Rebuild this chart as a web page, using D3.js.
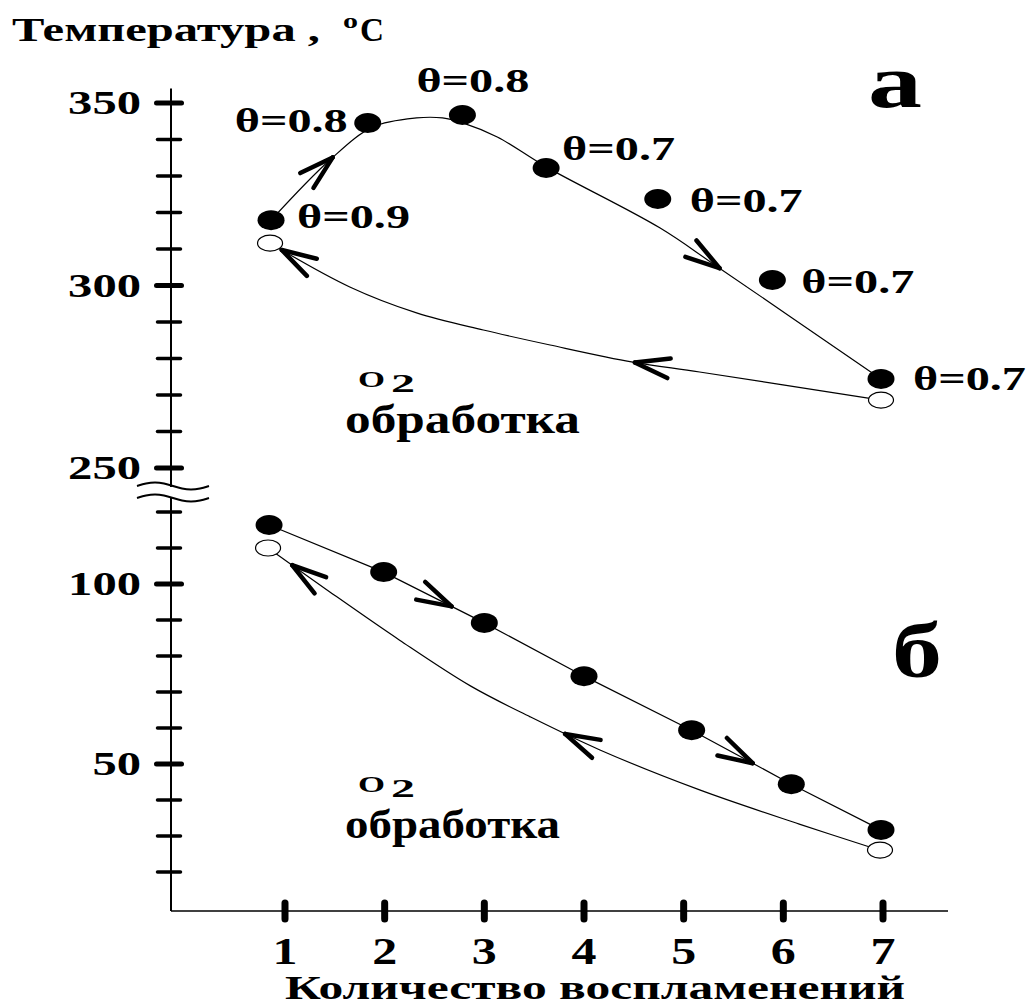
<!DOCTYPE html>
<html>
<head>
<meta charset="utf-8">
<script src="https://cdn.jsdelivr.net/npm/d3@7"></script>
<style>
  body { margin: 0; background: #fff; }
  svg text { font-family: 'Liberation Serif', Tinos, 'Times New Roman', Times, serif; font-weight: 700; fill: #000; }
</style>
</head>
<body>
<svg id="chart"></svg>
<script>
/* Temperature vs number of ignitions, two panels on a broken axis */

// --- data ---
// panel a (upper): heating points (filled), theta labels, cooled points (open)
const upHeatX = [0.86, 1.83, 2.78, 3.62, 4.74, 5.89, 6.98];
const upHeatT = [317.9, 344.5, 346.7, 332.2, 323.7, 301.5, 274.4];
const upTheta = ['θ=0.9', 'θ=0.8', 'θ=0.8', 'θ=0.7', 'θ=0.7', 'θ=0.7', 'θ=0.7'];
const upOpenX = [0.85, 6.98];
const upOpenT = [311.6, 268.6];
// smooth trend through the heating points, and the cooling return path (7 -> 1)
const upHeatCurveX = [0.86, 1.45, 1.88, 2.32, 2.58, 2.79, 3.13, 3.62, 4.76, 5.33, 6.98];
const upHeatCurveT = [317.9, 334.4, 343.4, 345.9, 345.9, 344.5, 340.7, 332.5, 315.8, 305.3, 274.4];
const upCoolCurveX = [6.98, 5.16, 4.49, 3.66, 2.99, 2.32, 1.65, 0.85];
const upCoolCurveT = [268.6, 276.3, 279.0, 283.7, 287.8, 292.5, 299.6, 311.6];

// panel б (lower)
const lowHeatX = [0.84, 1.99, 3.0, 4.0, 5.08, 6.08, 6.98];
const lowHeatT = [116.4, 103.3, 89.2, 74.4, 59.4, 44.4, 31.7];
const lowOpenX = [0.83, 6.97];
const lowOpenT = [110.0, 26.1];
const lowCoolCurveX = [6.96, 6.16, 5.16, 4.16, 3.46, 2.86, 2.15, 1.45, 0.83];
const lowCoolCurveT = [26.1, 33.3, 42.8, 53.9, 63.1, 71.7, 84.4, 97.8, 110.0];

// arrow tips (x position along each path)
const upHeatArrows = [1.48, 5.36];
const upCoolArrows = [4.51, 0.97];
const lowHeatArrows = [2.67, 5.69];
const lowCoolArrows = [3.81, 1.07];

// ticks
const xTickLabels = [1, 2, 3, 4, 5, 6, 7];
const upTicks = d3.range(250, 351, 10);
const lowTicks = d3.range(20, 121, 10);
const upTickLabels = [250, 300, 350];
const lowTickLabels = [50, 100];

// --- layout ---
const W = 1035, H = 1007;
const svg = d3.select('#chart').attr('width', W).attr('height', H)
    .attr('font-family', "'Liberation Serif', serif");

const x = d3.scaleLinear().domain([1, 7]).range([285, 883]);
const yUp = d3.scaleLinear().domain([250, 350]).range([468, 103]);
const yLow = d3.scaleLinear().domain([50, 100]).range([764, 584]);

const axisX = 171;
const axisTop = yUp(354);
const baseY = yLow(9.2);
const axisRight = 948;
const breakTop = 487, breakBot = 497;

function label(g, str, px, py, size, width, anchor) {
    const t = g.append('text')
        .attr('x', px)
        .attr('y', py)
        .attr('font-size', size)
        .attr('text-anchor', anchor || 'start')
        .text(str);
    if (width) t.attr('textLength', width).attr('lengthAdjust', 'spacingAndGlyphs');
    return t;
}

// Axes
const axis = svg.append('g').attr('stroke', '#000').attr('fill', 'none');
axis.append('line').attr('x1', axisX).attr('x2', axisX)
    .attr('y1', axisTop).attr('y2', breakTop).attr('stroke-width', 2);
axis.append('line').attr('x1', axisX).attr('x2', axisX)
    .attr('y1', breakBot).attr('y2', baseY).attr('stroke-width', 2);
axis.append('line').attr('x1', axisX).attr('x2', axisRight)
    .attr('y1', baseY).attr('y2', baseY).attr('stroke-width', 1.5);

// Axis break squiggles
const wave = d3.line().curve(d3.curveBasis);
[breakTop - 1, breakBot + 1].forEach(yy => {
    const pts = d3.range(0, 9).map(i => [axisX - 34 + i * 9, yy + 4 * Math.sin(i / 8 * 2 * Math.PI + Math.PI)]);
    axis.append('path').attr('d', wave(pts)).attr('stroke-width', 2);
});

// Y ticks crossing the axis
function yTicks(scale, ticks, majors) {
    ticks.forEach(v => {
        const major = majors.includes(v);
        axis.append('line')
            .attr('x1', major ? 156.5 : 157.5)
            .attr('x2', major ? 181.5 : 180.5)
            .attr('y1', scale(v)).attr('y2', scale(v))
            .attr('stroke-width', major ? 5 : 3.5)
            .attr('stroke-linecap', 'round');
    });
    majors.forEach(v => {
        const s = String(v);
        label(svg, s, 141, scale(v) + 11, 34, s.length * 24.3, 'end');
    });
}
yTicks(yUp, upTicks, upTickLabels);
yTicks(yLow, lowTicks, lowTickLabels);

// X ticks
xTickLabels.forEach(v => {
    axis.append('line')
        .attr('x1', x(v)).attr('x2', x(v))
        .attr('y1', baseY - 8).attr('y2', baseY + 8)
        .attr('stroke-width', 7)
        .attr('stroke-linecap', 'round');
    label(svg, String(v), x(v), 964, 38, 25, 'middle');
});

// Axis titles
label(svg, 'Температура ,', 12, 41, 34, 308);
label(svg, 'o', 343, 28, 20, 15);
label(svg, 'C', 360, 41, 34, 24);
label(svg, 'Количество воспламенений', 285, 999, 34, 620);

// Curves
const plot = svg.append('g');
function curve(xs, ts, scale, smooth) {
    const line = d3.line()
        .x(d => x(d[0]))
        .y(d => scale(d[1]))
        .curve(smooth ? d3.curveCatmullRom.alpha(0.5) : d3.curveLinear);
    return plot.append('path')
        .attr('d', line(d3.zip(xs, ts)))
        .attr('fill', 'none')
        .attr('stroke', '#000')
        .attr('stroke-width', 1.2);
}

function arrows(path, tips) {
    const node = path.node();
    const len = node.getTotalLength();
    tips.forEach(tx => {
        const target = x(tx);
        let best = 0, bd = Infinity;
        for (let l = 0; l <= len; l += 0.5) {
            const d = Math.abs(node.getPointAtLength(l).x - target);
            if (d < bd) { bd = d; best = l; }
        }
        const tip = node.getPointAtLength(best);
        const back = node.getPointAtLength(Math.max(0, best - 5));
        const ang = Math.atan2(back.y - tip.y, back.x - tip.x);
        const L = 36, a = 16 * Math.PI / 180;
        [-a, a].forEach(da => {
            plot.append('line')
                .attr('x1', tip.x).attr('y1', tip.y)
                .attr('x2', tip.x + L * Math.cos(ang + da))
                .attr('y2', tip.y + L * Math.sin(ang + da))
                .attr('stroke', '#000')
                .attr('stroke-width', 4.5)
                .attr('stroke-linecap', 'round');
        });
    });
}

arrows(curve(upHeatCurveX, upHeatCurveT, yUp, true), upHeatArrows);
arrows(curve(upCoolCurveX, upCoolCurveT, yUp, true), upCoolArrows);
arrows(curve(lowHeatX, lowHeatT, yLow, false), lowHeatArrows);
arrows(curve(lowCoolCurveX, lowCoolCurveT, yLow, true), lowCoolArrows);

// Points
function points(xs, ts, scale, filled) {
    plot.selectAll(null)
        .data(d3.zip(xs, ts))
        .join('ellipse')
        .attr('cx', d => x(d[0]))
        .attr('cy', d => scale(d[1]))
        .attr('rx', filled ? 13.5 : 12.5)
        .attr('ry', filled ? 10 : 8)
        .attr('fill', filled ? '#000' : '#fff')
        .attr('stroke', '#000')
        .attr('stroke-width', filled ? 0 : 1.2);
}
points(upOpenX, upOpenT, yUp, false);
points(upHeatX, upHeatT, yUp, true);
points(lowOpenX, lowOpenT, yLow, false);
points(lowHeatX, lowHeatT, yLow, true);

// Theta labels next to the upper points
const thetaPos = [[26, 8, 'start'], [-20, 9, 'end'], [-46, -23, 'start'], [16, -8, 'start'],
                  [32, 13, 'start'], [29, 13, 'start'], [32, 11, 'start']];
upTheta.forEach((s, i) => {
    const [dx, dy, anchor] = thetaPos[i];
    label(svg, s, x(upHeatX[i]) + dx, yUp(upHeatT[i]) + dy, 33, 113, anchor);
});

// Panel letters and treatment notes
label(svg, 'а', 895, 107, 76, 54, 'middle');
label(svg, 'б', 917, 677, 78, 50, 'middle');

[[387, 433, 235], [792, 838, 215]].forEach(([oy, ty, tw]) => {
    label(svg, 'O', 358, oy, 24, 27);
    label(svg, '2', 391, oy + 5, 26, 24);
    label(svg, 'обработка', 345, ty, 40, tw);
});
</script>
</body>
</html>
